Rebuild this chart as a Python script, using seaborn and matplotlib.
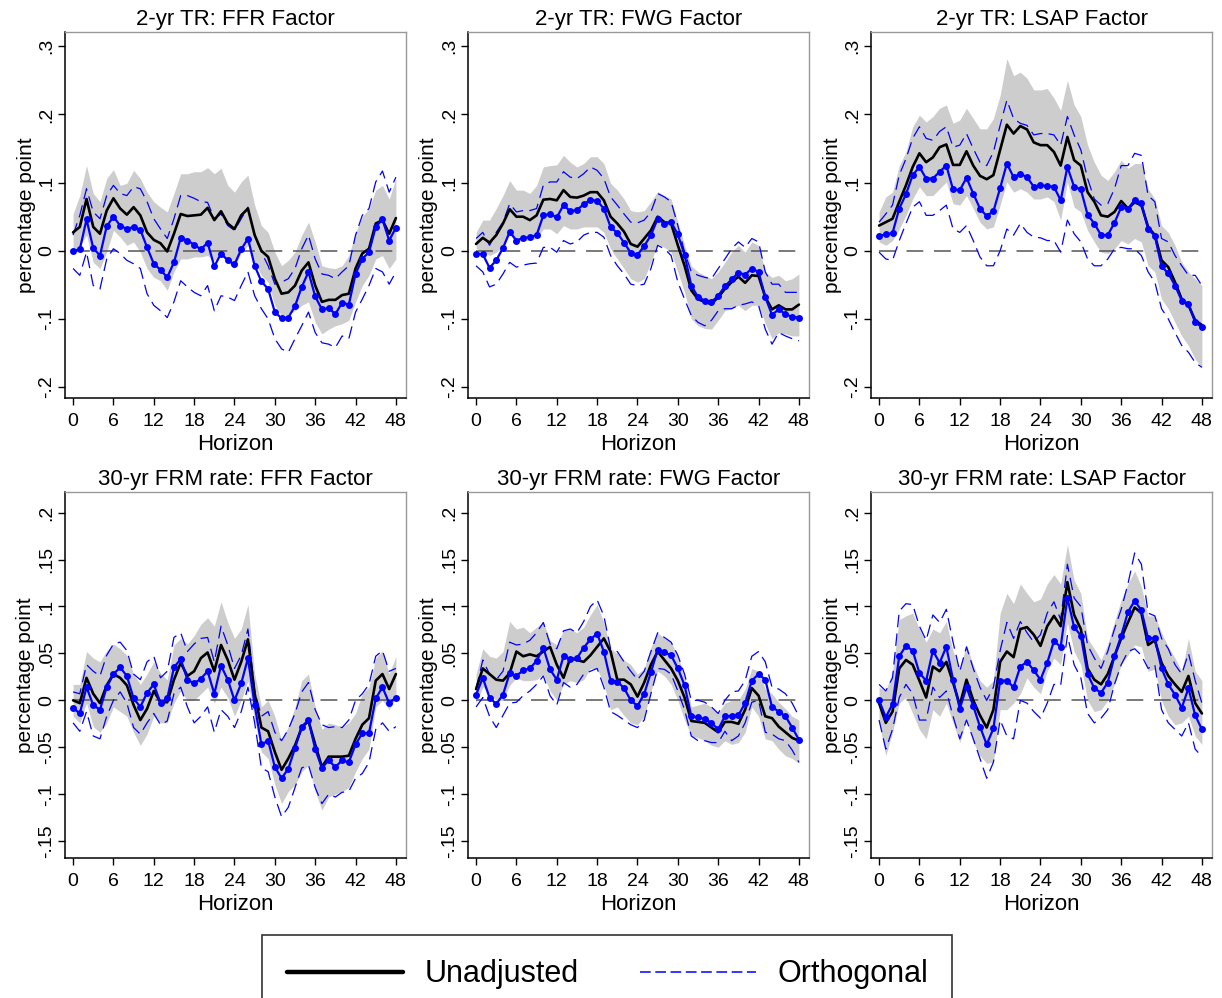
import numpy as np
import pandas as pd
import seaborn as sns
import matplotlib.pyplot as plt
from matplotlib.lines import Line2D

# ---------------------------------------------------------
# Data: impulse responses, horizons 0..48
# ---------------------------------------------------------
horizon = list(range(49))

titles = ["2-yr TR: FFR Factor", "2-yr TR: FWG Factor", "2-yr TR: LSAP Factor",
          "30-yr FRM rate: FFR Factor", "30-yr FRM rate: FWG Factor", "30-yr FRM rate: LSAP Factor"]

# panel 1: 2-yr TR, FFR
p1_unadj = [0.027, 0.035, 0.076, 0.035, 0.025, 0.059, 0.077, 0.062, 0.053, 0.064, 0.052, 0.027, 0.016, 0.011, -0.001, 0.025, 0.054, 0.051, 0.052, 0.053, 0.063, 0.045, 0.058, 0.040, 0.032,
            0.052, 0.062, 0.023, 0.0, -0.009, -0.041, -0.063, -0.061, -0.051, -0.029, -0.017, -0.051, -0.075, -0.072, -0.072, -0.065, -0.063, -0.026, -0.004, 0.003, 0.040, 0.045, 0.025, 0.048]
p1_hi = [0.054, 0.081, 0.125, 0.084, 0.072, 0.106, 0.119, 0.096, 0.099, 0.118, 0.106, 0.086, 0.072, 0.064, 0.057, 0.084, 0.113, 0.113, 0.116, 0.116, 0.122, 0.113, 0.121, 0.096, 0.086,
         0.101, 0.111, 0.067, 0.037, 0.027, -0.002, -0.022, -0.014, -0.002, 0.023, 0.042, 0.013, -0.022, -0.025, -0.026, -0.022, -0.007, 0.027, 0.050, 0.062, 0.089, 0.096, 0.076, 0.106]
p1_lo = [0.0, 0.008, 0.023, -0.017, -0.026, -0.002, 0.030, 0.020, 0.008, 0.013, -0.002, -0.026, -0.039, -0.044, -0.058, -0.031, -0.012, -0.012, -0.009, -0.009, -0.007, -0.014, -0.007, -0.017, -0.026,
         -0.002, 0.008, -0.017, -0.036, -0.046, -0.080, -0.095, -0.093, -0.088, -0.080, -0.075, -0.105, -0.122, -0.115, -0.110, -0.107, -0.102, -0.075, -0.051, -0.036, -0.012, -0.007, -0.026, -0.012]
p1_orth = [0.0, 0.002, 0.046, 0.004, -0.007, 0.036, 0.050, 0.037, 0.032, 0.035, 0.031, 0.005, -0.019, -0.028, -0.039, -0.017, 0.019, 0.015, 0.009, 0.002, 0.012, -0.023, -0.004, -0.014, -0.020,
           0.002, 0.018, -0.022, -0.045, -0.056, -0.090, -0.099, -0.098, -0.081, -0.053, -0.031, -0.067, -0.086, -0.084, -0.093, -0.076, -0.079, -0.034, -0.012, -0.002, 0.035, 0.046, 0.015, 0.034]
p1_ohi = [0.023, 0.052, 0.091, 0.057, 0.047, 0.081, 0.096, 0.084, 0.081, 0.094, 0.091, 0.072, 0.047, 0.032, 0.018, 0.047, 0.081, 0.081, 0.077, 0.072, 0.071, 0.047, 0.054, 0.037, 0.030,
          0.047, 0.064, 0.023, -0.002, -0.022, -0.049, -0.046, -0.041, -0.026, 0.003, 0.023, -0.012, -0.034, -0.036, -0.041, -0.031, -0.022, 0.023, 0.052, 0.062, 0.101, 0.117, 0.086, 0.108]
p1_olo = [-0.026, -0.036, -0.002, -0.051, -0.056, -0.012, 0.003, -0.004, -0.014, -0.019, -0.026, -0.063, -0.080, -0.088, -0.098, -0.075, -0.044, -0.053, -0.061, -0.066, -0.051, -0.088, -0.066, -0.068, -0.073,
          -0.051, -0.031, -0.066, -0.085, -0.100, -0.129, -0.144, -0.149, -0.129, -0.110, -0.090, -0.120, -0.135, -0.137, -0.142, -0.125, -0.129, -0.090, -0.071, -0.051, -0.026, -0.031, -0.049, -0.031]

# panel 2: 2-yr TR, FWG
p2_unadj = [0.010, 0.019, 0.012, 0.023, 0.040, 0.061, 0.050, 0.050, 0.045, 0.052, 0.075, 0.076, 0.074, 0.089, 0.079, 0.078, 0.081, 0.086, 0.086, 0.074, 0.050, 0.040, 0.028, 0.010, 0.006,
            0.018, 0.030, 0.050, 0.042, 0.040, 0.008, -0.022, -0.058, -0.071, -0.075, -0.078, -0.068, -0.056, -0.046, -0.038, -0.047, -0.036, -0.037, -0.068, -0.086, -0.080, -0.086, -0.086, -0.079]
p2_hi = [0.027, 0.045, 0.045, 0.062, 0.081, 0.103, 0.089, 0.089, 0.084, 0.096, 0.123, 0.125, 0.126, 0.140, 0.130, 0.123, 0.128, 0.138, 0.138, 0.128, 0.099, 0.089, 0.076, 0.059, 0.057,
         0.059, 0.072, 0.087, 0.081, 0.076, 0.042, 0.008, -0.022, -0.031, -0.036, -0.041, -0.031, -0.017, -0.002, 0.008, -0.002, 0.013, 0.008, -0.031, -0.039, -0.036, -0.044, -0.041, -0.034]
p2_lo = [0.003, 0.0, -0.007, -0.002, 0.005, 0.023, 0.013, 0.015, 0.015, 0.018, 0.032, 0.032, 0.025, 0.037, 0.032, 0.032, 0.035, 0.035, 0.035, 0.027, 0.003, -0.012, -0.026, -0.041, -0.046,
         -0.041, -0.017, 0.010, 0.005, -0.002, -0.031, -0.061, -0.100, -0.110, -0.114, -0.115, -0.102, -0.088, -0.085, -0.080, -0.088, -0.080, -0.080, -0.107, -0.129, -0.120, -0.122, -0.125, -0.125]
p2_orth = [-0.004, -0.005, -0.025, -0.014, 0.004, 0.028, 0.015, 0.019, 0.020, 0.023, 0.052, 0.054, 0.049, 0.067, 0.058, 0.060, 0.068, 0.075, 0.073, 0.062, 0.035, 0.026, 0.012, -0.003, -0.006,
           0.007, 0.023, 0.047, 0.040, 0.042, 0.024, -0.006, -0.051, -0.068, -0.073, -0.075, -0.066, -0.052, -0.042, -0.032, -0.035, -0.026, -0.031, -0.068, -0.094, -0.086, -0.093, -0.097, -0.098]
p2_ohi = [0.018, 0.027, 0.008, 0.027, 0.042, 0.069, 0.057, 0.059, 0.059, 0.062, 0.096, 0.101, 0.101, 0.116, 0.108, 0.106, 0.113, 0.123, 0.118, 0.106, 0.079, 0.067, 0.054, 0.042, 0.041,
          0.045, 0.057, 0.084, 0.079, 0.072, 0.037, -0.002, -0.031, -0.036, -0.039, -0.041, -0.026, -0.012, 0.003, 0.013, 0.005, 0.018, 0.013, -0.031, -0.049, -0.049, -0.061, -0.061, -0.061]
p2_olo = [-0.022, -0.031, -0.053, -0.049, -0.034, -0.017, -0.024, -0.021, -0.019, -0.018, 0.005, 0.005, -0.002, 0.015, 0.010, 0.013, 0.023, 0.027, 0.027, 0.020, -0.007, -0.022, -0.034, -0.049, -0.051,
          -0.049, -0.026, 0.008, 0.003, -0.007, -0.046, -0.071, -0.095, -0.105, -0.110, -0.102, -0.088, -0.085, -0.085, -0.080, -0.078, -0.075, -0.080, -0.115, -0.137, -0.120, -0.125, -0.129, -0.132]

# panel 3: 2-yr TR, LSAP
p3_unadj = [0.037, 0.042, 0.047, 0.072, 0.096, 0.123, 0.143, 0.130, 0.137, 0.152, 0.156, 0.126, 0.126, 0.146, 0.125, 0.110, 0.105, 0.111, 0.148, 0.185, 0.172, 0.183, 0.178, 0.159, 0.155,
            0.155, 0.145, 0.125, 0.167, 0.133, 0.125, 0.086, 0.072, 0.052, 0.050, 0.057, 0.073, 0.062, 0.071, 0.067, 0.035, 0.023, -0.014, -0.024, -0.046, -0.071, -0.080, -0.102, -0.109]
p3_hi = [0.057, 0.079, 0.086, 0.125, 0.145, 0.182, 0.199, 0.189, 0.197, 0.209, 0.214, 0.187, 0.192, 0.209, 0.194, 0.179, 0.179, 0.194, 0.228, 0.282, 0.257, 0.262, 0.253, 0.236, 0.236,
         0.238, 0.224, 0.206, 0.250, 0.214, 0.197, 0.155, 0.130, 0.111, 0.103, 0.116, 0.133, 0.121, 0.128, 0.128, 0.091, 0.076, 0.037, 0.027, 0.008, -0.017, -0.031, -0.041, -0.051]
p3_lo = [0.013, 0.008, 0.015, 0.032, 0.052, 0.076, 0.094, 0.081, 0.081, 0.091, 0.101, 0.069, 0.067, 0.081, 0.062, 0.042, 0.032, 0.035, 0.067, 0.101, 0.086, 0.091, 0.086, 0.076, 0.076,
         0.079, 0.072, 0.045, 0.101, 0.064, 0.057, 0.030, 0.013, -0.002, -0.004, 0.003, 0.015, 0.010, 0.018, 0.013, -0.022, -0.031, -0.071, -0.085, -0.105, -0.125, -0.139, -0.159, -0.171]
p3_orth = [0.022, 0.024, 0.026, 0.062, 0.083, 0.111, 0.123, 0.106, 0.106, 0.116, 0.125, 0.090, 0.089, 0.107, 0.084, 0.062, 0.051, 0.058, 0.092, 0.128, 0.108, 0.113, 0.108, 0.094, 0.096,
           0.095, 0.094, 0.074, 0.123, 0.094, 0.090, 0.053, 0.040, 0.023, 0.023, 0.041, 0.064, 0.061, 0.075, 0.070, 0.032, 0.022, -0.023, -0.033, -0.051, -0.073, -0.078, -0.105, -0.112]
p3_ohi = [0.042, 0.054, 0.067, 0.111, 0.135, 0.165, 0.182, 0.165, 0.162, 0.175, 0.182, 0.152, 0.155, 0.172, 0.150, 0.130, 0.125, 0.145, 0.184, 0.221, 0.194, 0.187, 0.184, 0.170, 0.172,
          0.172, 0.170, 0.155, 0.197, 0.170, 0.148, 0.106, 0.076, 0.067, 0.069, 0.091, 0.125, 0.125, 0.143, 0.140, 0.081, 0.072, 0.018, 0.013, -0.007, -0.022, -0.036, -0.036, -0.051]
p3_olo = [-0.002, -0.012, -0.014, 0.015, 0.040, 0.064, 0.072, 0.052, 0.052, 0.059, 0.067, 0.032, 0.027, 0.037, 0.015, -0.009, -0.022, -0.022, 0.0, 0.032, 0.023, 0.040, 0.027, 0.020, 0.019,
          0.015, 0.015, -0.002, 0.045, 0.025, 0.013, -0.012, -0.022, -0.022, -0.012, 0.003, 0.005, 0.003, 0.003, -0.007, -0.031, -0.046, -0.085, -0.100, -0.120, -0.139, -0.149, -0.164, -0.171]

# panel 4: 30-yr FRM, FFR
p4_unadj = [0.0, -0.003, 0.024, 0.007, -0.003, 0.016, 0.028, 0.024, 0.016, -0.005, -0.021, -0.009, 0.010, -0.002, -0.002, 0.022, 0.040, 0.026, 0.031, 0.045, 0.051, 0.031, 0.059, 0.043, 0.022,
            0.041, 0.065, 0.007, -0.029, -0.033, -0.055, -0.074, -0.062, -0.048, -0.029, -0.022, -0.047, -0.071, -0.060, -0.060, -0.060, -0.059, -0.041, -0.026, -0.019, 0.021, 0.028, 0.012, 0.028]
p4_hi = [0.017, 0.017, 0.052, 0.045, 0.041, 0.053, 0.060, 0.055, 0.048, 0.028, 0.017, 0.028, 0.041, 0.029, 0.022, 0.059, 0.066, 0.060, 0.069, 0.081, 0.088, 0.079, 0.105, 0.083, 0.066,
         0.076, 0.102, 0.028, -0.007, 0.0, -0.017, -0.043, -0.028, -0.007, 0.021, 0.028, -0.007, -0.031, -0.024, -0.026, -0.028, -0.024, -0.014, 0.007, 0.014, 0.045, 0.053, 0.028, 0.047]
p4_lo = [-0.017, -0.024, -0.003, -0.028, -0.034, -0.024, -0.007, -0.012, -0.017, -0.034, -0.048, -0.036, -0.017, -0.024, -0.024, -0.003, 0.010, 0.0, 0.0, 0.007, 0.014, -0.003, 0.014, 0.003, -0.017,
         0.0, 0.021, -0.021, -0.055, -0.062, -0.090, -0.110, -0.097, -0.090, -0.076, -0.069, -0.097, -0.117, -0.103, -0.100, -0.097, -0.093, -0.076, -0.062, -0.052, -0.007, 0.0, -0.010, 0.003]
p4_orth = [-0.008, -0.014, 0.014, -0.005, -0.010, 0.014, 0.028, 0.035, 0.026, 0.002, -0.007, 0.008, 0.017, -0.003, 0.002, 0.035, 0.044, 0.022, 0.018, 0.023, 0.031, 0.007, 0.037, 0.022, 0.0,
           0.018, 0.045, -0.005, -0.047, -0.043, -0.071, -0.083, -0.073, -0.051, -0.028, -0.021, -0.052, -0.072, -0.064, -0.071, -0.064, -0.066, -0.047, -0.035, -0.035, 0.002, 0.014, -0.003, 0.003]
p4_ohi = [0.009, 0.007, 0.038, 0.031, 0.026, 0.048, 0.060, 0.062, 0.053, 0.028, 0.022, 0.041, 0.047, 0.024, 0.031, 0.067, 0.072, 0.052, 0.060, 0.066, 0.067, 0.041, 0.079, 0.059, 0.034,
          0.048, 0.076, 0.010, -0.017, -0.012, -0.034, -0.043, -0.031, -0.014, 0.009, 0.019, -0.010, -0.026, -0.029, -0.028, -0.029, -0.021, 0.0, 0.007, 0.017, 0.047, 0.053, 0.031, 0.034]
p4_olo = [-0.024, -0.033, -0.012, -0.038, -0.041, -0.017, 0.0, 0.009, -0.003, -0.029, -0.036, -0.024, -0.014, -0.026, -0.022, 0.007, 0.014, -0.007, -0.024, -0.017, -0.007, -0.034, -0.010, -0.017, -0.029,
          -0.012, 0.014, -0.024, -0.072, -0.076, -0.103, -0.124, -0.114, -0.093, -0.072, -0.069, -0.093, -0.110, -0.100, -0.103, -0.098, -0.097, -0.083, -0.078, -0.066, -0.031, -0.024, -0.033, -0.028]

# panel 5: 30-yr FRM, FWG
p5_unadj = [0.012, 0.034, 0.028, 0.022, 0.021, 0.029, 0.052, 0.047, 0.049, 0.047, 0.052, 0.057, 0.038, 0.024, 0.045, 0.043, 0.041, 0.048, 0.057, 0.066, 0.052, 0.022, 0.022, 0.017, 0.004,
            0.019, 0.038, 0.052, 0.043, 0.034, 0.021, 0.003, -0.022, -0.023, -0.024, -0.029, -0.034, -0.023, -0.023, -0.025, -0.010, 0.013, 0.005, -0.017, -0.019, -0.028, -0.034, -0.040, -0.043]
p5_hi = [0.028, 0.055, 0.047, 0.045, 0.052, 0.084, 0.076, 0.078, 0.072, 0.078, 0.083, 0.064, 0.059, 0.074, 0.076, 0.072, 0.078, 0.091, 0.102, 0.083, 0.055, 0.050, 0.043, 0.038, 0.028,
         0.034, 0.057, 0.072, 0.066, 0.062, 0.047, 0.026, -0.007, -0.005, -0.003, -0.007, -0.014, -0.003, 0.0, 0.0, 0.012, 0.034, 0.031, 0.012, 0.007, -0.002, -0.009, -0.017, -0.021]
p5_lo = [-0.003, 0.014, 0.007, 0.0, 0.0, 0.016, 0.024, 0.021, 0.021, 0.022, 0.028, 0.010, 0.0, 0.017, 0.021, 0.019, 0.022, 0.034, 0.034, 0.017, -0.010, -0.007, -0.016, -0.024, -0.026,
         -0.017, 0.010, 0.031, 0.026, 0.017, 0.0, -0.021, -0.038, -0.040, -0.043, -0.048, -0.050, -0.043, -0.047, -0.045, -0.034, -0.007, -0.017, -0.041, -0.043, -0.052, -0.059, -0.062, -0.067]
p5_orth = [0.006, 0.024, 0.003, -0.004, 0.006, 0.029, 0.026, 0.032, 0.034, 0.042, 0.056, 0.033, 0.022, 0.047, 0.044, 0.045, 0.056, 0.065, 0.071, 0.052, 0.021, 0.020, 0.013, 0.0, -0.006,
           0.007, 0.030, 0.054, 0.051, 0.048, 0.034, 0.016, -0.017, -0.018, -0.020, -0.024, -0.031, -0.017, -0.017, -0.016, -0.003, 0.021, 0.028, 0.022, -0.007, -0.012, -0.017, -0.029, -0.042]
p5_ohi = [0.012, 0.043, 0.028, 0.022, 0.031, 0.062, 0.059, 0.060, 0.064, 0.072, 0.083, 0.060, 0.055, 0.074, 0.076, 0.072, 0.084, 0.100, 0.107, 0.090, 0.055, 0.052, 0.041, 0.031, 0.022,
          0.031, 0.052, 0.072, 0.067, 0.062, 0.048, 0.028, 0.0, 0.0, -0.002, -0.007, -0.014, 0.0, 0.009, 0.010, 0.021, 0.047, 0.052, 0.041, 0.014, 0.012, 0.007, -0.003, -0.017]
p5_olo = [-0.007, 0.003, -0.017, -0.029, -0.016, -0.003, -0.002, 0.005, 0.010, 0.017, 0.026, 0.005, -0.005, 0.019, 0.014, 0.017, 0.028, 0.031, 0.034, 0.014, -0.012, -0.016, -0.021, -0.026, -0.029,
          -0.021, 0.007, 0.034, 0.033, 0.028, 0.010, -0.010, -0.038, -0.043, -0.043, -0.045, -0.045, -0.033, -0.043, -0.038, -0.024, -0.002, 0.0, -0.034, -0.036, -0.041, -0.043, -0.053, -0.066]

# panel 6: 30-yr FRM, LSAP
p6_unadj = [-0.003, -0.024, -0.012, 0.034, 0.043, 0.038, 0.021, 0.003, 0.036, 0.031, 0.041, 0.019, -0.005, 0.022, 0.0, -0.016, -0.029, -0.010, 0.041, 0.052, 0.046, 0.076, 0.078, 0.070, 0.058,
            0.079, 0.090, 0.079, 0.126, 0.091, 0.076, 0.034, 0.022, 0.017, 0.028, 0.047, 0.066, 0.083, 0.099, 0.093, 0.059, 0.064, 0.040, 0.026, 0.017, 0.009, 0.026, -0.003, -0.014]
p6_hi = [0.014, 0.010, 0.031, 0.086, 0.090, 0.093, 0.076, 0.062, 0.076, 0.072, 0.084, 0.052, 0.034, 0.059, 0.038, 0.021, 0.014, 0.021, 0.093, 0.114, 0.103, 0.124, 0.114, 0.105, 0.108,
         0.124, 0.134, 0.124, 0.166, 0.128, 0.114, 0.066, 0.055, 0.043, 0.060, 0.084, 0.107, 0.124, 0.138, 0.121, 0.090, 0.090, 0.072, 0.057, 0.045, 0.031, 0.066, 0.031, 0.021]
p6_lo = [-0.024, -0.059, -0.034, -0.003, 0.003, -0.014, -0.031, -0.041, -0.010, -0.017, -0.003, -0.024, -0.045, -0.021, -0.045, -0.059, -0.067, -0.066, -0.010, -0.010, -0.003, 0.007, 0.024, 0.014, 0.007,
         0.031, 0.045, 0.038, 0.083, 0.052, 0.038, 0.0, -0.012, -0.010, 0.0, 0.017, 0.038, 0.048, 0.059, 0.057, 0.031, 0.033, 0.0, -0.017, -0.026, -0.024, -0.017, -0.038, -0.047]
p6_orth = [0.0, -0.018, -0.004, 0.047, 0.058, 0.053, 0.029, 0.021, 0.053, 0.040, 0.057, 0.022, -0.009, 0.014, -0.006, -0.028, -0.047, -0.030, 0.021, 0.021, 0.014, 0.036, 0.041, 0.032, 0.022,
           0.040, 0.063, 0.057, 0.109, 0.078, 0.069, 0.028, 0.013, 0.008, 0.019, 0.047, 0.069, 0.094, 0.106, 0.096, 0.066, 0.066, 0.034, 0.017, 0.006, -0.008, 0.013, -0.016, -0.031]
p6_ohi = [0.017, 0.010, 0.024, 0.095, 0.103, 0.102, 0.079, 0.064, 0.091, 0.083, 0.097, 0.062, 0.031, 0.057, 0.034, 0.014, 0.0, 0.014, 0.053, 0.083, 0.066, 0.084, 0.072, 0.062, 0.070,
          0.093, 0.105, 0.086, 0.145, 0.109, 0.100, 0.059, 0.045, 0.034, 0.052, 0.076, 0.097, 0.124, 0.157, 0.145, 0.093, 0.090, 0.066, 0.055, 0.038, 0.028, 0.050, 0.021, -0.003]
p6_olo = [-0.021, -0.052, -0.031, 0.003, 0.017, 0.007, -0.021, -0.021, 0.014, 0.003, 0.010, -0.017, -0.041, -0.021, -0.041, -0.062, -0.083, -0.066, -0.021, -0.038, -0.041, 0.0, -0.003, -0.012, -0.019,
          -0.003, 0.017, 0.016, 0.069, 0.038, 0.024, -0.014, -0.024, -0.019, -0.010, 0.017, 0.038, 0.052, 0.055, 0.048, 0.034, 0.038, -0.010, -0.024, -0.031, -0.038, -0.024, -0.052, -0.060]

# y ticks for the two rows
top_ticks = [-0.2, -0.1, 0.0, 0.1, 0.2, 0.3]
top_labels = ['-.2', '-.1', '0', '.1', '.2', '.3']
bot_ticks = [-0.15, -0.1, -0.05, 0.0, 0.05, 0.1, 0.15, 0.2]
bot_labels = ['-.15', '-.1', '-.05', '0', '.05', '.1', '.15', '.2']
x_ticks = list(range(0, 49, 6))

panels = [
    (p1_unadj, p1_lo, p1_hi, p1_orth, p1_olo, p1_ohi),
    (p2_unadj, p2_lo, p2_hi, p2_orth, p2_olo, p2_ohi),
    (p3_unadj, p3_lo, p3_hi, p3_orth, p3_olo, p3_ohi),
    (p4_unadj, p4_lo, p4_hi, p4_orth, p4_olo, p4_ohi),
    (p5_unadj, p5_lo, p5_hi, p5_orth, p5_olo, p5_ohi),
    (p6_unadj, p6_lo, p6_hi, p6_orth, p6_olo, p6_ohi),
]

# ---------------------------------------------------------
# Style
# ---------------------------------------------------------
sns.set_style("ticks")
plt.rcParams['font.family'] = ['Liberation Sans', 'DejaVu Sans']
plt.rcParams['text.color'] = 'black'
plt.rcParams['axes.labelcolor'] = 'black'
plt.rcParams['xtick.color'] = 'black'
plt.rcParams['ytick.color'] = 'black'

fig = plt.figure(figsize=(12.22, 9.98), dpi=100)

col_left = [65 / 1222, 468 / 1222, 871 / 1222]
ax_w = 341 / 1222
row_bottom = [1 - 398 / 998, 1 - 858 / 998]
ax_h = 366 / 998

for i, (unadj, lo, hi, orth, olo, ohi) in enumerate(panels):
    r, c = divmod(i, 3)
    ax = fig.add_axes([col_left[c], row_bottom[r], ax_w, ax_h])
    df = pd.DataFrame({'horizon': horizon, 'unadj': unadj, 'lo': lo, 'hi': hi,
                       'orth': orth, 'olo': olo, 'ohi': ohi})

    ax.fill_between(df['horizon'], df['lo'], df['hi'], color='#cdcdcd', lw=0, zorder=1)
    ax.hlines(0, df['horizon'].min(), df['horizon'].max(), colors='#555555',
              linestyles=(0, (11, 7)), lw=1.1, zorder=2)
    sns.lineplot(data=df, x='horizon', y='olo', ax=ax, color='blue', lw=0.9,
                 zorder=3).lines[-1].set_dashes((10, 5))
    sns.lineplot(data=df, x='horizon', y='ohi', ax=ax, color='blue', lw=0.9,
                 zorder=3).lines[-1].set_dashes((10, 5))
    sns.lineplot(data=df, x='horizon', y='unadj', ax=ax, color='black', lw=1.9, zorder=4)
    sns.lineplot(data=df, x='horizon', y='orth', ax=ax, color='blue', lw=1.6,
                 marker='o', markersize=5, markeredgewidth=0, zorder=5)

    ax.set_xlim(-1.2, 49.5)
    if r == 0:
        ax.set_ylim(-0.216, 0.321)
        ax.set_yticks(top_ticks)
        ax.set_yticklabels(top_labels)
    else:
        ax.set_ylim(-0.168, 0.222)
        ax.set_yticks(bot_ticks)
        ax.set_yticklabels(bot_labels)
    ax.set_xticks(x_ticks)
    ax.tick_params(axis='y', labelrotation=90, labelsize=14, length=5, width=1, pad=2)
    for lab in ax.get_yticklabels():
        lab.set_verticalalignment('center')
    ax.tick_params(axis='x', labelsize=14, length=5, width=1, pad=6)
    ax.set_xlabel('Horizon', fontsize=16, labelpad=3)
    ax.set_ylabel('percentage point', fontsize=15, labelpad=2)
    ax.set_title(titles[i], fontsize=16, pad=5)
    for s in ['left', 'bottom']:
        ax.spines[s].set_color('black')
        ax.spines[s].set_linewidth(1.1)
    for s in ['top', 'right']:
        ax.spines[s].set_visible(True)
        ax.spines[s].set_color('#999999')
        ax.spines[s].set_linewidth(1.0)

handles = [Line2D([], [], color='black', lw=3.2),
           Line2D([], [], color='blue', lw=1.1, dashes=(7, 3))]
leg = fig.legend(handles, ['Unadjusted', 'Orthogonal'], loc='upper center',
                 bbox_to_anchor=(0.497, 1 - 935 / 998), ncol=2, fontsize=22,
                 frameon=True, fancybox=False, edgecolor='black', handlelength=3.8,
                 columnspacing=2.0, borderpad=0.8, handletextpad=0.7,
                 borderaxespad=0)
leg.get_frame().set_linewidth(1.2)

fig.savefig('out.png', dpi=100)
